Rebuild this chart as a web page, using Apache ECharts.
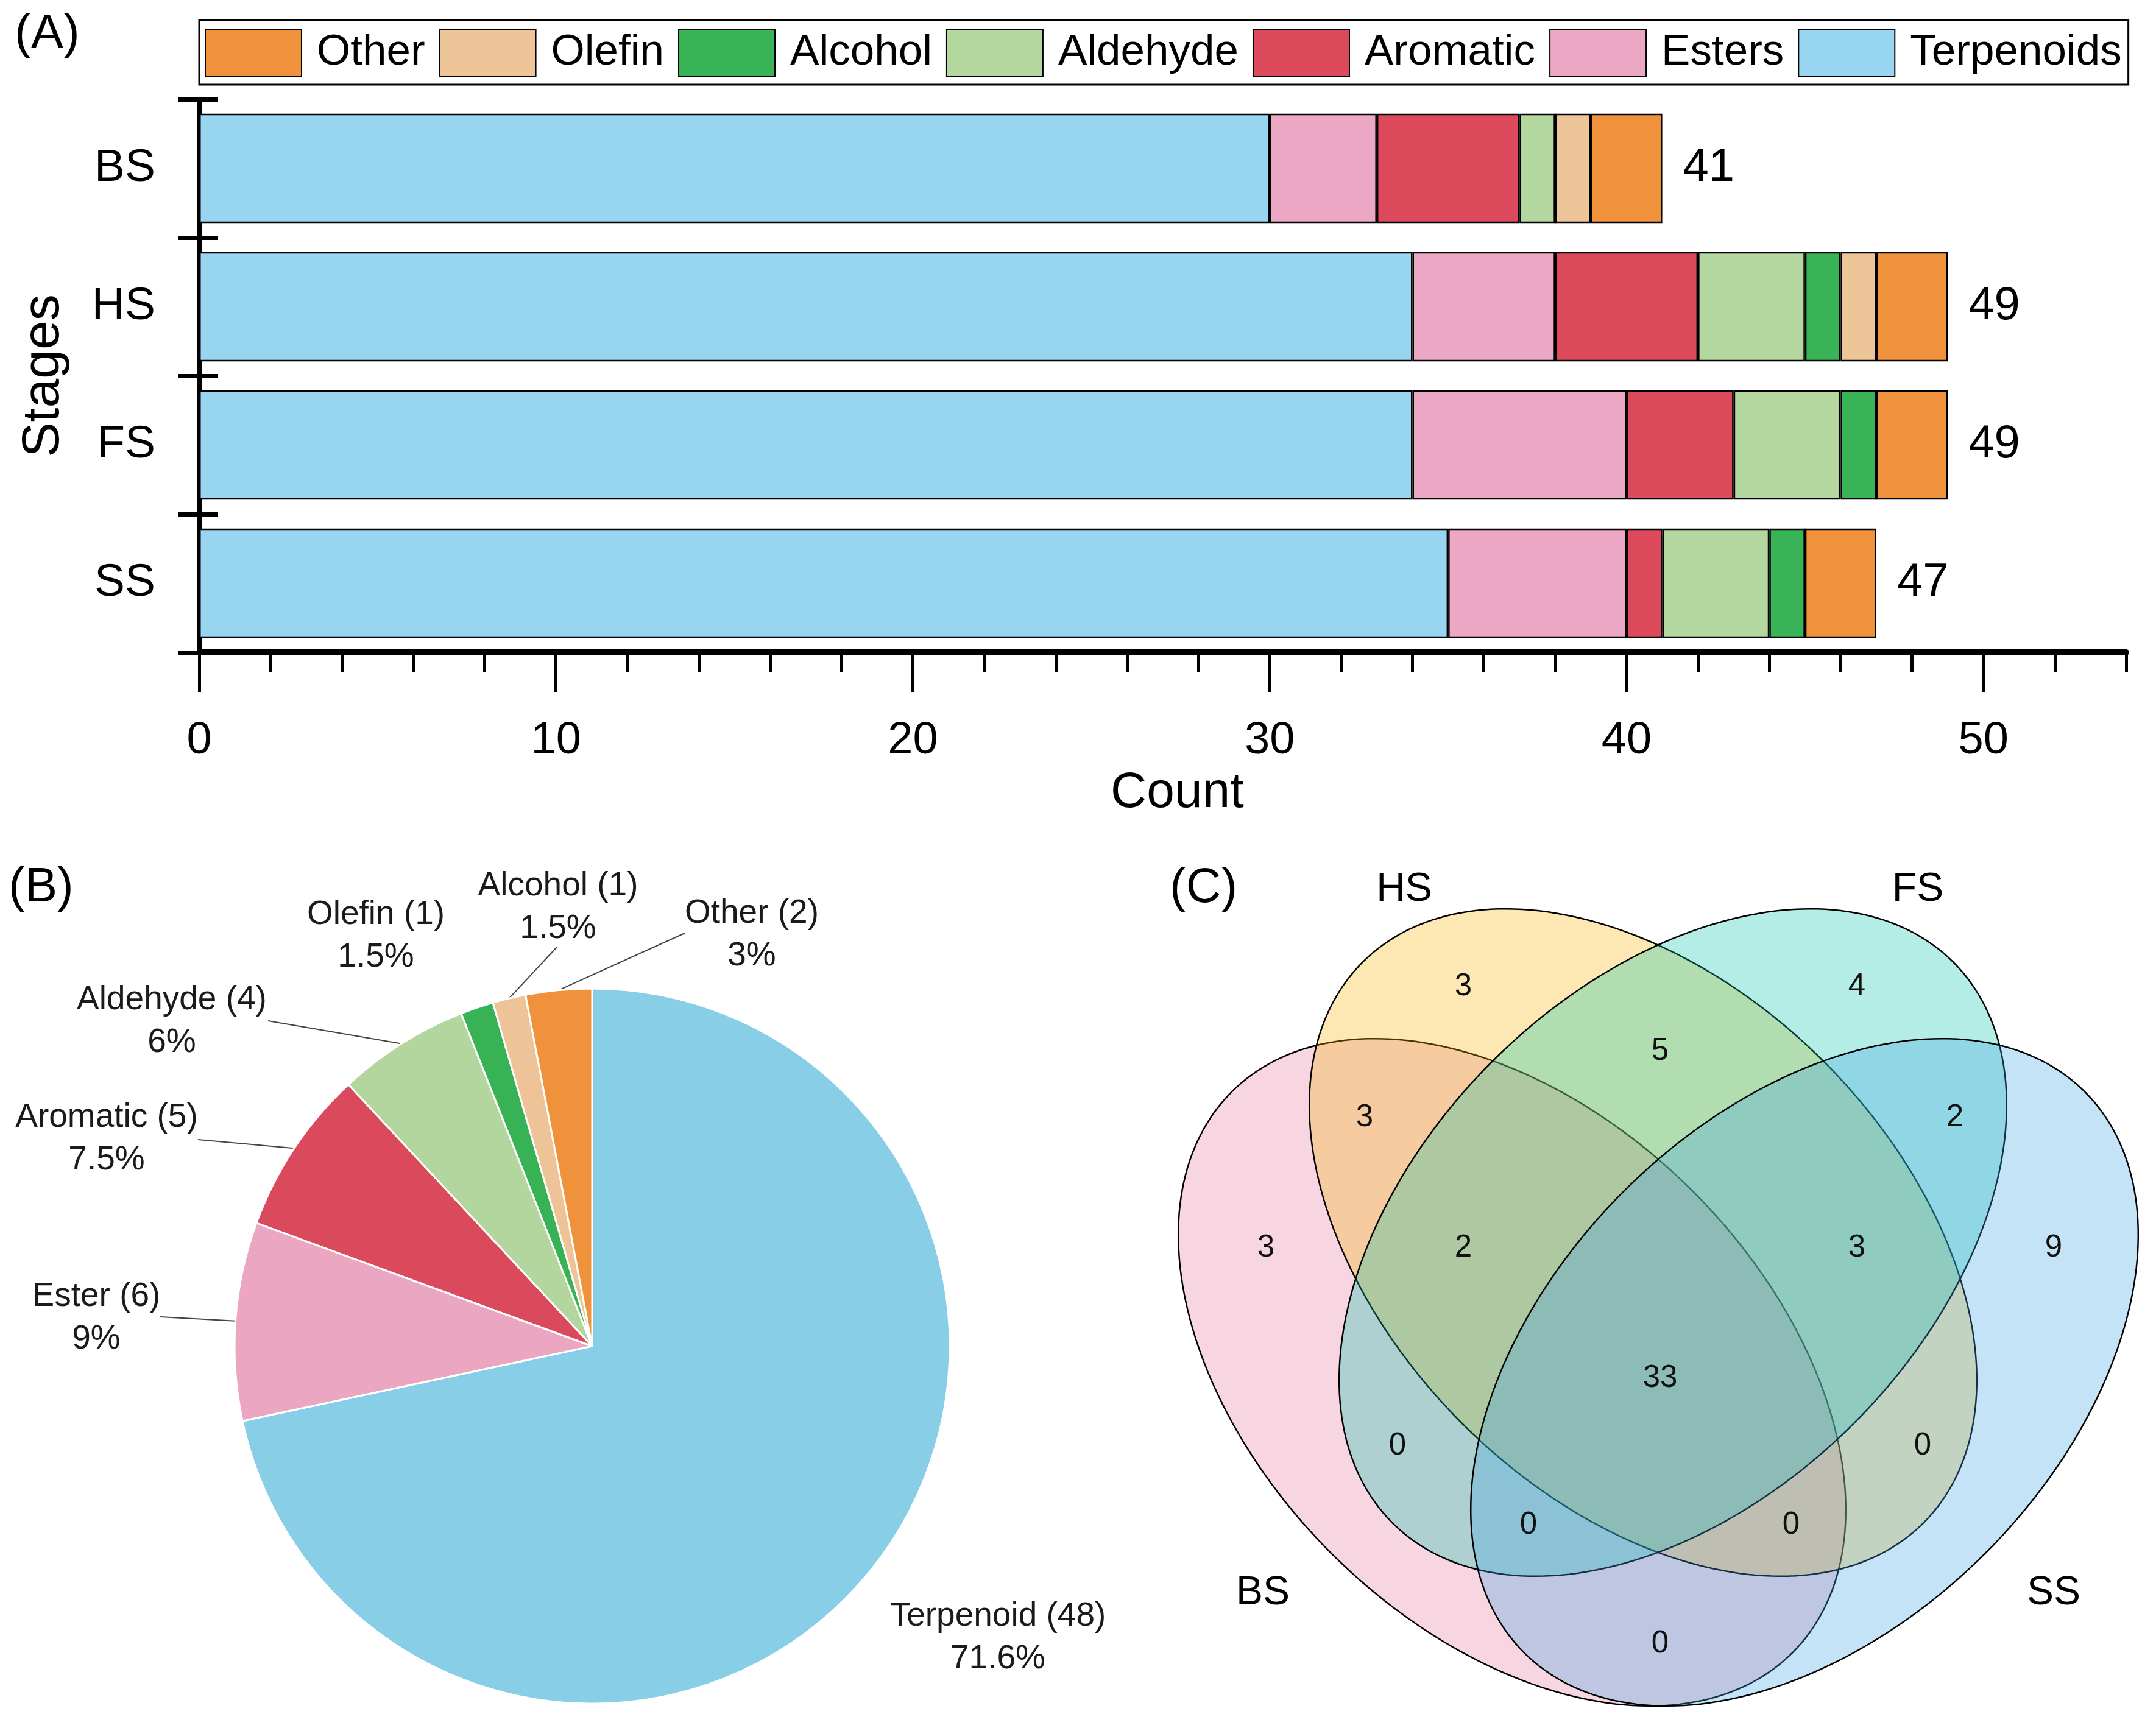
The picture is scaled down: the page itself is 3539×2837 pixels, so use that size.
<!DOCTYPE html>
<html><head><meta charset="utf-8">
<script src="https://cdn.jsdelivr.net/npm/echarts@6/dist/echarts.min.js"></script>
<style>html,body{margin:0;padding:0;background:#fff}#c{width:3539px;height:2837px}</style>
</head><body><div id="c"></div>
<script>
// ---------- DATA ----------
const stages = ['BS', 'HS', 'FS', 'SS'];
const terpenoids = [30, 34, 34, 35];
const esters     = [3, 4, 6, 5];
const aromatic   = [4, 4, 3, 1];
const aldehyde   = [1, 3, 3, 3];
const alcohol    = [0, 1, 1, 1];
const olefin     = [1, 1, 0, 0];
const other      = [2, 2, 2, 2];
const stageTotals = [41, 49, 49, 47];
const countTicks = [0, 10, 20, 30, 40, 50];

const pieNames  = ['Terpenoid', 'Ester', 'Aromatic', 'Aldehyde', 'Alcohol', 'Olefin', 'Other'];
const pieValues = [48, 6, 5, 4, 1, 1, 2];

const vennSets    = ['BS', 'HS', 'FS', 'SS'];
const vennRegions = ['BS', 'HS', 'FS', 'SS', 'BS&HS', 'HS&FS', 'FS&SS', 'BS&FS', 'HS&SS', 'BS&SS',
                     'BS&HS&FS', 'HS&FS&SS', 'BS&FS&SS', 'BS&HS&SS', 'BS&HS&FS&SS'];
const vennCounts  = [3, 3, 4, 9, 3, 5, 2, 0, 0, 0, 2, 3, 0, 0, 33];

// ---------- STYLE / LAYOUT ----------
const FONT = 'Liberation Sans, Arial, sans-serif';
const barColors = {
  Terpenoids: '#97D5F1', Esters: '#ECA7C4', Aromatic: '#DC4A5C', Aldehyde: '#B4D7A0',
  Alcohol: '#38B456', Olefin: '#EEC598', Other: '#F0923B'
};
const pieColors = {
  Terpenoid: '#87CEE6', Ester: '#EBA6C2', Aromatic: '#DB4A5C', Aldehyde: '#B3D69F',
  Alcohol: '#37B356', Olefin: '#EEC397', Other: '#F0923B'
};
const PIE_C = [972, 2210], PIE_R = 587;
const pieLabelLayout = {
  Terpenoid: { pos: [1638, 2689] },
  Ester:     { pos: [158, 2164], lineFrom: 'Ester', lineTo: [263, 2162] },
  Aromatic:  { pos: [175, 1870], lineFrom: 'Aromatic', lineTo: [325, 1871] },
  Aldehyde:  { pos: [282, 1677], lineFrom: 'Aldehyde', lineTo: [440, 1676] },
  Alcohol:   { pos: [916, 1490], lineFrom: 'Olefin', lineTo: [914, 1555] },
  Olefin:    { pos: [617, 1537] },
  Other:     { pos: [1234, 1535], lineFrom: 'Other', lineTo: [1124, 1532] }
};
// Venn geometry in panel-local units (pixels from panel origin)
const VENN_A = 651, VENN_B = 420;
const vennEllipses = {
  BS: { c: [632, 873], rot: 45,  fill: 'rgba(228,118,158,0.3)' },
  HS: { c: [847, 660], rot: 45,  fill: 'rgba(248,178,5,0.3)' },
  FS: { c: [896, 660], rot: -45, fill: 'rgba(5,195,168,0.3)' },
  SS: { c: [1112, 873], rot: -45, fill: 'rgba(62,162,225,0.3)' }
};
const vennRegionPos = {
  'BS': [228, 669], 'HS': [552, 240], 'FS': [1198, 240], 'SS': [1521, 669],
  'BS&HS': [390, 455], 'HS&FS': [875, 346], 'FS&SS': [1359, 455],
  'BS&FS': [444, 994], 'HS&SS': [1306, 994], 'BS&SS': [875, 1319],
  'BS&HS&FS': [552, 669], 'HS&FS&SS': [1198, 669], 'BS&FS&SS': [659, 1124],
  'BS&HS&SS': [1090, 1124], 'BS&HS&FS&SS': [875, 883]
};
const vennSetLabelPos = { HS: [455, 81], FS: [1298, 81], BS: [223, 1236], SS: [1521, 1236] };

// ---------- BUILD ----------
const pieTotal = pieValues.reduce((a, b) => a + b, 0);
function pieEdge(i) {
  let before = 0;
  for (let j = 0; j < i; j++) before += pieValues[j];
  const ang = (before + pieValues[i] / 2) / pieTotal * Math.PI * 2;
  return [PIE_C[0] + PIE_R * Math.sin(ang), PIE_C[1] - PIE_R * Math.cos(ang)];
}
const fmtPct = v => String(parseFloat(v.toFixed(1)));

const barDefs = [
  ['Terpenoids', terpenoids], ['Esters', esters], ['Aromatic', aromatic], ['Aldehyde', aldehyde],
  ['Alcohol', alcohol], ['Olefin', olefin], ['Other', other]
];
const barSeries = barDefs.map(([name, data]) => {
  const s = {
    type: 'bar', name, stack: 'total', xAxisIndex: 0, yAxisIndex: 0,
    barCategoryGap: '21%', data,
    itemStyle: { color: barColors[name], borderColor: '#000', borderWidth: 2.5 },
    emphasis: { disabled: true }
  };
  if (name === 'Other') {
    s.label = {
      show: true, position: 'right', distance: 34, fontSize: 76, color: '#000', fontFamily: FONT,
      formatter: p => String(stageTotals[p.dataIndex])
    };
  }
  return s;
});

const chart = echarts.init(document.getElementById('c'), null, { renderer: 'canvas' });
const option = {
  animation: false,
  backgroundColor: '#fff',
  textStyle: { fontFamily: FONT, color: '#000' },
  title: [
    { text: '(A)', left: 24, top: 17, padding: 0, textStyle: { fontSize: 80, fontWeight: 'normal', fontFamily: FONT, color: '#000' } },
    { text: '(B)', left: 14, top: 1418, padding: 0, textStyle: { fontSize: 80, fontWeight: 'normal', fontFamily: FONT, color: '#000' } },
    { text: '(C)', left: 1920, top: 1419, padding: 0, textStyle: { fontSize: 80, fontWeight: 'normal', fontFamily: FONT, color: '#000' } }
  ],
  legend: {
    data: ['Other', 'Olefin', 'Alcohol', 'Aldehyde', 'Aromatic', 'Esters', 'Terpenoids'],
    left: 327, top: 33, orient: 'horizontal',
    padding: [14, 11, 13, 9], itemGap: 23, itemWidth: 158, itemHeight: 77,
    icon: 'rect', borderColor: '#000', borderWidth: 3, backgroundColor: '#fff',
    selectedMode: false,
    textStyle: { fontSize: 71, color: '#000', fontFamily: FONT, padding: [0, 0, 0, 20] }
  },
  grid: [
    { left: 327, right: 49, top: 163, bottom: 1766 },
    { left: 1850, top: 1380, width: 1689, height: 1457 }
  ],
  xAxis: [
    {
      gridIndex: 0, type: 'value', min: 0, max: 54, interval: 10, position: 'bottom',
      axisLine: { show: true, lineStyle: { color: '#000', width: 10 } },
      axisTick: { show: true, length: 65, lineStyle: { color: '#000', width: 5 }, customValues: countTicks },
      axisLabel: { fontSize: 74, margin: 109, color: '#000', fontFamily: FONT, customValues: countTicks },
      splitLine: { show: false },
      name: 'Count', nameLocation: 'middle', nameGap: 190,
      nameTextStyle: { fontSize: 82, color: '#000', fontFamily: FONT, padding: [0, 0, 0, 48] }
    },
    {
      gridIndex: 0, type: 'value', min: 0, max: 54, interval: 2, position: 'bottom',
      axisLine: { show: false },
      axisTick: { show: true, length: 33, lineStyle: { color: '#000', width: 5 } },
      axisLabel: { show: false }, splitLine: { show: false }
    },
    { gridIndex: 1, type: 'value', min: 0, max: 1689, show: false }
  ],
  yAxis: [
    {
      gridIndex: 0, type: 'category', data: stages, inverse: true, position: 'left',
      axisLine: { show: true, lineStyle: { color: '#000', width: 7 } },
      axisTick: { show: true, length: 34, lineStyle: { color: '#000', width: 7 } },
      axisLabel: { fontSize: 75, margin: 72, color: '#000', fontFamily: FONT },
      name: 'Stages', nameLocation: 'middle', nameGap: 212,
      nameTextStyle: { fontSize: 86, color: '#000', fontFamily: FONT }
    },
    {
      gridIndex: 0, type: 'category', data: stages, inverse: true, position: 'left',
      axisLine: { show: false },
      axisTick: { show: true, inside: true, length: 31, lineStyle: { color: '#000', width: 7 } },
      axisLabel: { show: false }
    },
    { gridIndex: 1, type: 'value', min: 0, max: 1457, inverse: true, show: false }
  ],
  series: [
    ...barSeries,
    {
      type: 'pie', name: 'Composition', center: PIE_C, radius: PIE_R,
      startAngle: 90, clockwise: true, avoidLabelOverlap: false,
      data: pieNames.map((n, i) => ({
        name: n, value: pieValues[i],
        itemStyle: { color: pieColors[n] },
        labelLine: { show: !!pieLabelLayout[n].lineFrom }
      })),
      itemStyle: { borderColor: '#fff', borderWidth: 3 },
      emphasis: { disabled: true },
      label: {
        show: true, position: 'outside', fontSize: 55, lineHeight: 70, color: '#1a1a1a',
        fontFamily: FONT, align: 'center',
        formatter: p => `${p.name} (${p.value})\n${fmtPct(p.value / pieTotal * 100)}%`
      },
      labelLine: { show: true, lineStyle: { color: '#444', width: 2 } },
      labelLayout: params => {
        const L = pieLabelLayout[pieNames[params.dataIndex]];
        const out = { x: L.pos[0], y: L.pos[1], align: 'center', verticalAlign: 'middle' };
        if (L.lineFrom) out.labelLinePoints = [pieEdge(pieNames.indexOf(L.lineFrom)), L.lineTo];
        return out;
      }
    },
    {
      type: 'custom', name: 'VennSets', xAxisIndex: 2, yAxisIndex: 2, silent: true, z: 2,
      data: vennSets.map((s, i) => [i, 0]),
      renderItem: (params, api) => {
        const e = vennEllipses[vennSets[api.value(0)]];
        const th = e.rot * Math.PI / 180, pts = [];
        for (let k = 0; k < 240; k++) {
          const t = k / 240 * Math.PI * 2;
          const x = e.c[0] + VENN_A * Math.cos(t) * Math.cos(th) - VENN_B * Math.sin(t) * Math.sin(th);
          const y = e.c[1] + VENN_A * Math.cos(t) * Math.sin(th) + VENN_B * Math.sin(t) * Math.cos(th);
          pts.push(api.coord([x, y]));
        }
        return { type: 'polygon', shape: { points: pts }, style: { fill: e.fill, stroke: '#000', lineWidth: 2.5 } };
      }
    },
    {
      type: 'custom', name: 'VennCounts', xAxisIndex: 2, yAxisIndex: 2, silent: true, z: 3,
      data: vennCounts.map((c, i) => [i, c]),
      renderItem: (params, api) => {
        const pt = api.coord(vennRegionPos[vennRegions[api.value(0)]]);
        return { type: 'text', x: pt[0], y: pt[1],
          style: { text: String(api.value(1)), fontSize: 51, fontFamily: FONT, fill: '#111', align: 'center', verticalAlign: 'middle' } };
      }
    },
    {
      type: 'custom', name: 'VennSetNames', xAxisIndex: 2, yAxisIndex: 2, silent: true, z: 3,
      data: vennSets.map((s, i) => [i, 0]),
      renderItem: (params, api) => {
        const name = vennSets[api.value(0)];
        const pt = api.coord(vennSetLabelPos[name]);
        return { type: 'text', x: pt[0], y: pt[1],
          style: { text: name, fontSize: 66, fontFamily: FONT, fill: '#000', align: 'center', verticalAlign: 'middle' } };
      }
    }
  ]
};
chart.setOption(option);
</script></body></html>
